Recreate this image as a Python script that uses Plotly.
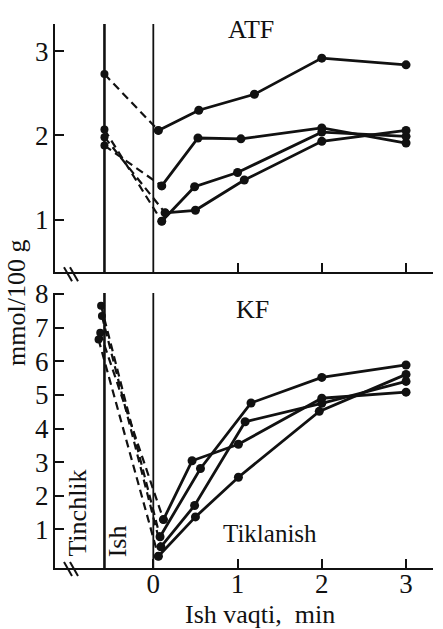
import plotly.graph_objects as go

# ---- data -------------------------------------------------------------
# ATF (upper panel): value at rest, then recovery after work (time in min)
atf_rest_x = [-0.58, -0.58, -0.58, -0.58]
atf_rest = [2.73, 1.88, 2.07, 1.98]
atf_x = [
    [0.06, 0.54, 1.20, 2.00, 3.00],
    [0.10, 0.53, 1.04, 2.00, 3.00],
    [0.10, 0.49, 1.00, 2.00, 3.00],
    [0.14, 0.50, 1.08, 2.00, 3.00],
]
atf_y = [
    [2.06, 2.30, 2.49, 2.92, 2.84],
    [1.40, 1.97, 1.96, 2.09, 1.91],
    [0.98, 1.39, 1.56, 2.04, 1.99],
    [1.08, 1.11, 1.47, 1.93, 2.06],
]

# KF (lower panel)
kf_rest_x = [-0.63, -0.62, -0.61, -0.65]
kf_rest = [6.85, 7.65, 7.35, 6.65]
kf_x = [
    [0.12, 0.46, 1.01, 2.00, 3.00],
    [0.08, 0.56, 1.16, 2.00, 3.00],
    [0.09, 0.49, 1.09, 2.00, 3.00],
    [0.06, 0.50, 1.01, 1.97, 3.00],
]
kf_y = [
    [1.29, 3.04, 3.53, 4.90, 5.08],
    [0.78, 2.81, 4.76, 5.52, 5.89],
    [0.48, 1.71, 4.20, 4.75, 5.40],
    [0.20, 1.37, 2.55, 4.51, 5.61],
]

x_ticks = [0, 1, 2, 3]
atf_ticks = [1, 2, 3]
kf_ticks = [1, 2, 3, 4, 5, 6, 7, 8]
work_start = -0.58   # boundary rest / work
work_end = 0         # boundary work / recovery

# ---- layout helpers ---------------------------------------------------
W, H = 443, 629
ML, MR, MT, MB = 55, 10, 18, 61
PW, PH = W - ML - MR, H - MT - MB


def px(x):
    return (x - ML) / PW


def py(y):
    return (H - MB - y) / PH


FONT = "Liberation Serif"
INK = "#111111"

fig = go.Figure()


def add_panel(rest_x, rest, xs, ys, xa, ya):
    for rx, r, x, y in zip(rest_x, rest, xs, ys):
        fig.add_trace(go.Scatter(
            x=[rx, x[0]], y=[r, y[0]], mode="lines+markers", xaxis=xa, yaxis=ya,
            line=dict(color=INK, width=2.2, dash="8px,5px"),
            marker=dict(color=INK, size=8), showlegend=False, hoverinfo="skip"))
        fig.add_trace(go.Scatter(
            x=x, y=y, mode="lines+markers", xaxis=xa, yaxis=ya,
            line=dict(color=INK, width=2.8),
            marker=dict(color=INK, size=9), showlegend=False))


add_panel(atf_rest_x, atf_rest, atf_x, atf_y, "x", "y")
add_panel(kf_rest_x, kf_rest, kf_x, kf_y, "x2", "y2")

axis_common = dict(
    showline=True, linecolor=INK, linewidth=2, ticks="inside", ticklen=9,
    tickwidth=2, tickcolor=INK, showgrid=False, zeroline=False,
    tickfont=dict(family=FONT, size=27, color=INK), mirror=False,
)
xrange = [-1.167, 3.32]

fig.update_layout(
    width=W, height=H, margin=dict(l=ML, r=MR, t=MT, b=MB),
    paper_bgcolor="white", plot_bgcolor="white",
    font=dict(family=FONT, color=INK),
    xaxis=dict(axis_common, range=xrange, domain=[0, 1], anchor="y",
               tickvals=[1, 2, 3], showticklabels=False),
    yaxis=dict(axis_common, range=[0.373, 3.326], domain=[py(269), 1],
               anchor="x", tickvals=atf_ticks, ticklabelstandoff=-1),
    xaxis2=dict(axis_common, range=xrange, domain=[0, 1], anchor="y2",
                tickvals=x_ticks, ticktext=[str(v) for v in x_ticks],
                ticklabelstandoff=-9),
    yaxis2=dict(axis_common, range=[-0.15, 8.03], domain=[0, py(290)],
                anchor="x2", tickvals=kf_ticks, ticklabelstandoff=-1),
)

# phase boundaries
shapes = []
for xr, yr in (("x", "y domain"), ("x2", "y2 domain")):
    shapes.append(dict(type="line", xref=xr, yref=yr, x0=work_start, x1=work_start,
                       y0=0, y1=1, line=dict(color=INK, width=2.6)))
    shapes.append(dict(type="line", xref=xr, yref=yr, x0=work_end, x1=work_end,
                       y0=0, y1=1, line=dict(color=INK, width=1.8)))

# axis break marks
for base in (270, 568):
    for dx in (0, 6):
        shapes.append(dict(type="line", xref="paper", yref="paper",
                           x0=px(64 + dx), y0=py(base - 6),
                           x1=px(72 + dx), y1=py(base + 8),
                           line=dict(color=INK, width=2)))
fig.update_layout(shapes=shapes)

txt = dict(family=FONT, color=INK)
annotations = [
    dict(text="ATF", x=px(251), y=py(24), size=26),
    dict(text="KF", x=px(252), y=py(307), size=26),
    dict(text="Tiklanish", x=px(270), y=py(533), size=25),
    dict(text="Ish vaqti,  min", x=px(260), y=py(615), size=26),
    dict(text="mmol/100 g", x=px(17), y=py(300), size=26, angle=-90),
    dict(text="Tinchlik", x=px(78), y=py(513), size=26, angle=-90),
    dict(text="Ish", x=px(117), y=py(541), size=26, angle=-90),
]
fig.update_layout(annotations=[
    dict(text=a["text"], x=a["x"], y=a["y"], xref="paper", yref="paper",
         xanchor="center", yanchor="middle", showarrow=False,
         textangle=a.get("angle", 0), font=dict(txt, size=a["size"]))
    for a in annotations
])

fig.write_html("out.html")
